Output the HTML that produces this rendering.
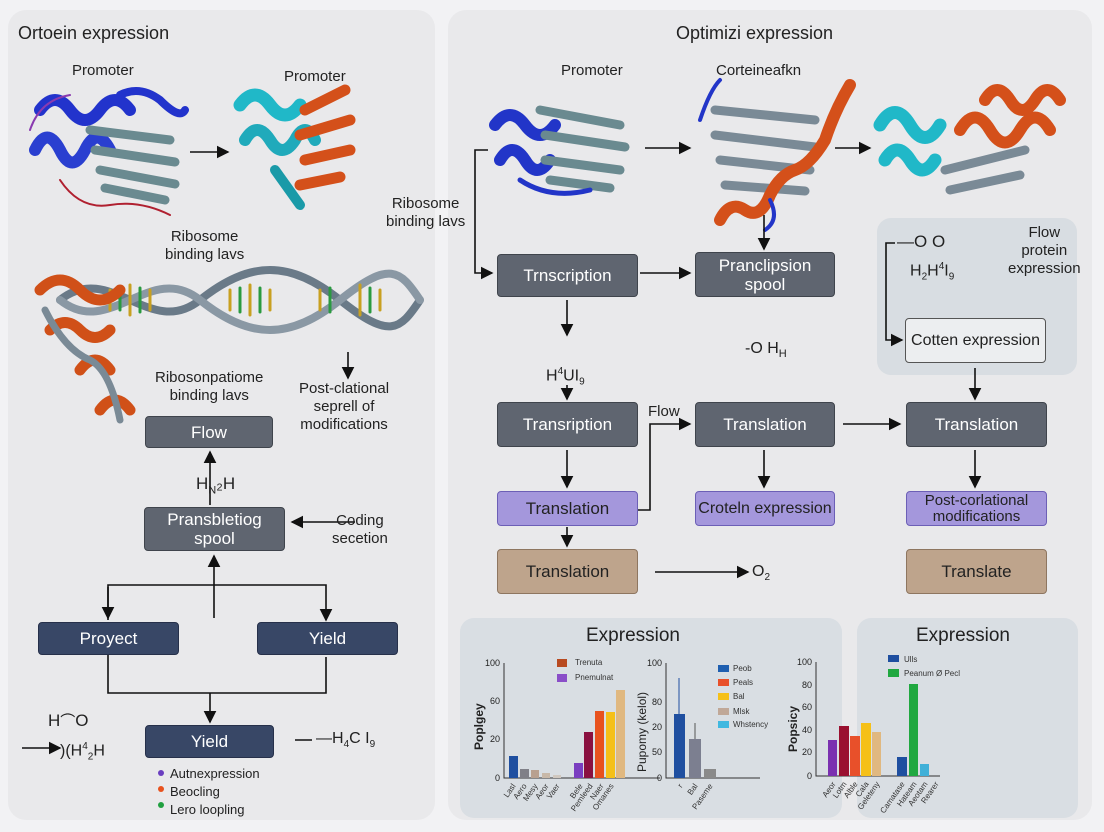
<!DOCTYPE html>
<html><head><meta charset="utf-8"><style>
body{margin:0;width:1104px;height:832px;background:#f2f2f4;font-family:"Liberation Sans",sans-serif;position:relative;overflow:hidden}
.a{position:absolute}
.p{position:absolute;border-radius:18px}
.b{position:absolute;display:flex;align-items:center;justify-content:center;text-align:center;border-radius:4px;font-size:17px;color:#fff;line-height:19px}
.g{background:#5f6570;border:1.5px solid #3f444c}
.n{background:#384766;border:1.5px solid #26304a}
.pu{background:#a497dc;border:1.5px solid #6c5fb6;color:#222}
.t{background:#bea48c;border:1.5px solid #8e7660;color:#222}
.l{position:absolute;font-size:15px;color:#222;text-align:center;line-height:18px;white-space:nowrap}
</style></head><body>
<div class="p" style="left:8px;top:10px;width:427px;height:810px;background:#e9e9eb"></div>
<div class="p" style="left:448px;top:10px;width:644px;height:810px;background:#e9e9eb"></div>
<div class="p" style="left:877px;top:218px;width:200px;height:157px;background:#d8dde2;border-radius:14px"></div>
<div class="p" style="left:460px;top:618px;width:382px;height:200px;background:#d9dee3;border-radius:14px"></div>
<div class="p" style="left:857px;top:618px;width:221px;height:200px;background:#d9dee3;border-radius:14px"></div>

<svg class="a" style="left:0;top:0" width="1104" height="832" viewBox="0 0 1104 832">
<defs><marker id="ar" markerWidth="8" markerHeight="8" refX="7" refY="4" orient="auto"><path d="M0,0L8,4L0,8z" fill="#111"/></marker></defs>
<g fill="none" stroke-linecap="round">
<path d="M40,110 q15,-20 30,0 q15,20 30,0 q15,-20 30,0" stroke="#2233cc" stroke-width="12"/>
<path d="M35,150 q12,-25 25,0 q12,25 25,0 q12,-25 25,0" stroke="#2a3fd0" stroke-width="12"/>
<path d="M90,130 l80,10 M95,150 l80,12 M100,170 l75,14 M105,188 l60,12" stroke="#6a8a90" stroke-width="9"/>
<path d="M60,180 q20,30 50,25 q30,-5 60,10" stroke="#b02030" stroke-width="2"/>
<path d="M120,95 q20,-10 40,5 q20,20 25,10" stroke="#2233cc" stroke-width="8"/>
<path d="M30,130 q10,-30 40,-35" stroke="#8a3ab0" stroke-width="2"/>
<path d="M240,105 q15,-20 30,0 q15,20 30,0" stroke="#20b8c8" stroke-width="13"/>
<path d="M245,140 q12,-20 25,0 q12,20 25,0 q10,-20 20,0" stroke="#20aabb" stroke-width="12"/>
<path d="M305,110 l40,-20 M300,135 l50,-15 M305,160 l45,-10 M300,185 l40,-8" stroke="#d4501a" stroke-width="11"/>
<path d="M275,170 l25,35" stroke="#1a9aa8" stroke-width="10"/>
<path d="M60,300 C110,260 150,340 200,300 S290,260 340,300 S400,330 420,300" stroke="#6a7a88" stroke-width="8"/>
<path d="M60,300 C110,340 150,260 200,300 S290,340 340,300 S400,270 420,300" stroke="#8a98a4" stroke-width="8"/>
<path d="M110,290 v20 M130,285 v30 M150,290 v20 M230,290 v20 M250,285 v30 M270,290 v20 M320,290 v20 M360,285 v30 M380,290 v20" stroke="#c8a020" stroke-width="3"/>
<path d="M120,290 v20 M140,288 v24 M240,288 v24 M260,288 v24 M330,288 v24 M370,288 v24" stroke="#2a9a40" stroke-width="3"/>
<path d="M40,290 q20,-20 40,0 q20,20 40,0 M50,330 q15,-15 30,0 q15,15 30,0 M80,370 q15,-20 30,0 M100,410 q15,-20 30,0" stroke="#d05018" stroke-width="11"/>
<path d="M45,310 q20,40 45,50 q20,10 30,60" stroke="#7a8a96" stroke-width="7"/>
<path d="M495,125 q15,-20 30,0 q15,20 30,0 M500,160 q12,-20 25,0 q12,20 25,0" stroke="#2235c8" stroke-width="12"/>
<path d="M540,110 l80,15 M545,135 l80,12 M545,160 l75,10 M550,180 l60,8" stroke="#6a8a90" stroke-width="9"/>
<path d="M520,180 q30,20 70,10" stroke="#2235c8" stroke-width="5"/>
<path d="M715,110 l100,10 M715,135 l100,12 M720,160 l90,10 M725,185 l80,6" stroke="#7a8a96" stroke-width="9"/>
<path d="M720,220 q10,-20 25,-10 q15,10 25,-15 q10,-20 25,-25 q15,-5 30,-30 q10,-30 25,-55" stroke="#d4501a" stroke-width="12"/>
<path d="M700,120 q10,-30 20,-40 M770,200 q10,20 -5,30" stroke="#2235c8" stroke-width="4"/>
<path d="M880,125 q15,-25 30,0 q15,25 30,0 M885,160 q12,-20 25,0 q12,20 25,0" stroke="#20b8c8" stroke-width="13"/>
<path d="M960,130 q15,-25 30,0 q15,25 30,0 q15,-25 30,0 M985,100 q12,-20 25,0 q12,20 25,0 q12,-20 25,0" stroke="#d4501a" stroke-width="12"/>
<path d="M945,170 l80,-20 M950,190 l70,-15" stroke="#7a8a96" stroke-width="9"/>
</g>
<g stroke="#111" stroke-width="1.6" fill="none">
<line x1="190" y1="152" x2="228" y2="152" marker-end="url(#ar)"/>
<line x1="348" y1="352" x2="348" y2="378" marker-end="url(#ar)"/>
<line x1="210" y1="505" x2="210" y2="452" marker-end="url(#ar)"/>
<line x1="355" y1="522" x2="292" y2="522" marker-end="url(#ar)"/>
<line x1="214" y1="618" x2="214" y2="556" marker-end="url(#ar)"/>
<polyline points="108,620 108,585 326,585 326,620" marker-end="url(#ar)"/>
<line x1="108" y1="587" x2="108" y2="618" marker-end="url(#ar)"/>
<polyline points="108,655 108,693 326,693 326,657"/>
<line x1="210" y1="693" x2="210" y2="722" marker-end="url(#ar)"/>
<line x1="22" y1="748" x2="60" y2="748" marker-end="url(#ar)"/>
<line x1="295" y1="740" x2="312" y2="740"/>
<polyline points="488,150 475,150 475,273 492,273" marker-end="url(#ar)"/>
<line x1="640" y1="273" x2="690" y2="273" marker-end="url(#ar)"/>
<line x1="764" y1="215" x2="764" y2="249" marker-end="url(#ar)"/>
<line x1="567" y1="300" x2="567" y2="335" marker-end="url(#ar)"/>
<line x1="567" y1="385" x2="567" y2="399" marker-end="url(#ar)"/>
<line x1="567" y1="450" x2="567" y2="487" marker-end="url(#ar)"/>
<line x1="567" y1="527" x2="567" y2="546" marker-end="url(#ar)"/>
<polyline points="637,510 650,510 650,424 690,424" marker-end="url(#ar)"/>
<line x1="764" y1="450" x2="764" y2="487" marker-end="url(#ar)"/>
<line x1="843" y1="424" x2="900" y2="424" marker-end="url(#ar)"/>
<line x1="975" y1="368" x2="975" y2="399" marker-end="url(#ar)"/>
<line x1="975" y1="450" x2="975" y2="487" marker-end="url(#ar)"/>
<polyline points="895,243 886,243 886,340 902,340" marker-end="url(#ar)"/>
<line x1="645" y1="148" x2="690" y2="148" marker-end="url(#ar)"/>
<line x1="835" y1="148" x2="870" y2="148" marker-end="url(#ar)"/>
<line x1="655" y1="572" x2="748" y2="572" marker-end="url(#ar)"/>
</g>
<g stroke="#333" stroke-width="1">
<path d="M504,663 V778 H660 M666,663 V778 H760 M816,662 V776 H940" fill="none"/>
</g>
<g font-size="9" fill="#222" text-anchor="end" font-family="Liberation Sans">
<text x="500" y="666">100</text><text x="500" y="704">60</text><text x="500" y="742">20</text><text x="500" y="781">0</text>
<text x="662" y="666">100</text><text x="662" y="705">80</text><text x="662" y="730">20</text><text x="662" y="755">50</text><text x="662" y="781">0</text>
<text x="812" y="665">100</text><text x="812" y="688">80</text><text x="812" y="710">60</text><text x="812" y="733">40</text><text x="812" y="755">20</text><text x="812" y="779">0</text>
</g>
<g font-size="12" fill="#222" font-family="Liberation Sans" font-weight="bold">
<text transform="translate(483,750) rotate(-90)">Poplgey</text>
<text transform="translate(646,772) rotate(-90)" font-weight="normal">Pupomy (kelol)</text>
<text transform="translate(797,752) rotate(-90)">Popsicy</text>
</g>
<rect x="509" y="756" width="9" height="22" fill="#1f4fa0"/>
<rect x="520" y="769" width="9" height="9" fill="#808088"/>
<rect x="531" y="770" width="8" height="8" fill="#b8a090"/>
<rect x="542" y="773" width="8" height="5" fill="#c8b8a8"/>
<rect x="553" y="775" width="8" height="3" fill="#d0c8c0"/>
<rect x="574" y="763" width="9" height="15" fill="#7a3ec0"/>
<rect x="584" y="732" width="9" height="46" fill="#8a1040"/>
<rect x="595" y="711" width="9" height="67" fill="#e8521e"/>
<rect x="606" y="712" width="9" height="66" fill="#f5c018"/>
<rect x="616" y="690" width="9" height="88" fill="#e0b880"/>
<rect x="557" y="659" width="10" height="8" fill="#b84a20"/><rect x="557" y="674" width="10" height="8" fill="#8a4ec8"/>
<rect x="674" y="714" width="11" height="64" fill="#1f4fa0"/><line x1="679" y1="678" x2="679" y2="714" stroke="#1f4fa0"/>
<rect x="689" y="739" width="12" height="39" fill="#7c7f90"/><line x1="695" y1="723" x2="695" y2="739" stroke="#555"/>
<rect x="704" y="769" width="12" height="9" fill="#8a8a8a"/>
<rect x="718" y="665" width="11" height="7" fill="#1f5fb0"/><rect x="718" y="679" width="11" height="7" fill="#e8502a"/><rect x="718" y="693" width="11" height="7" fill="#f5c018"/><rect x="718" y="708" width="11" height="7" fill="#c0a898"/><rect x="718" y="721" width="11" height="7" fill="#40b8e0"/>
<rect x="828" y="740" width="9" height="36" fill="#7a30b0"/>
<rect x="839" y="726" width="10" height="50" fill="#9a1030"/>
<rect x="850" y="736" width="10" height="40" fill="#e8502a"/>
<rect x="861" y="723" width="10" height="53" fill="#f5c018"/>
<rect x="872" y="732" width="9" height="44" fill="#e0b880"/>
<rect x="897" y="757" width="10" height="19" fill="#1f4fa0"/>
<rect x="909" y="684" width="9" height="92" fill="#20a840"/>
<rect x="920" y="764" width="9" height="12" fill="#40b0d8"/>
<rect x="888" y="655" width="11" height="7" fill="#1f4fa0"/><rect x="888" y="669" width="11" height="8" fill="#20a840"/>
<g font-size="8" fill="#333" font-family="Liberation Sans">
<text x="575" y="665">Trenuta</text><text x="575" y="680">Pnemulnat</text>
<text x="733" y="671">Peob</text><text x="733" y="685">Peals</text><text x="733" y="699">Bal</text><text x="733" y="714">Mlsk</text><text x="733" y="727">Whstency</text>
<text x="904" y="662">Ulls</text><text x="904" y="676">Peanum Ø Pecl</text>
</g>
<g font-size="8" fill="#333" font-family="Liberation Sans" text-anchor="end">
<text transform="translate(516,786) rotate(-55)">Lasl</text><text transform="translate(527,786) rotate(-55)">Aero</text><text transform="translate(538,786) rotate(-55)">Mesy</text><text transform="translate(549,786) rotate(-55)">Aeor</text><text transform="translate(560,786) rotate(-55)">Vaer</text>
<text transform="translate(583,786) rotate(-55)">Bele</text><text transform="translate(593,786) rotate(-55)">Pemleed</text><text transform="translate(604,786) rotate(-55)">Naer</text><text transform="translate(614,786) rotate(-55)">Omanes</text>
<text transform="translate(683,786) rotate(-55)">r</text><text transform="translate(698,786) rotate(-55)">Bal</text><text transform="translate(713,786) rotate(-55)">Paseme</text>
<text transform="translate(836,784) rotate(-55)">Aeor</text><text transform="translate(847,784) rotate(-55)">Lotm</text><text transform="translate(858,784) rotate(-55)">Alble</text><text transform="translate(869,784) rotate(-55)">Cala</text><text transform="translate(880,784) rotate(-55)">Geleteny</text>
<text transform="translate(905,784) rotate(-55)">Camatase</text><text transform="translate(917,784) rotate(-55)">Hateam</text><text transform="translate(928,784) rotate(-55)">Aeotam</text><text transform="translate(939,784) rotate(-55)">Rearer</text>
</g>
<circle cx="161" cy="773" r="3" fill="#6a3ec0"/><circle cx="161" cy="789" r="3" fill="#e8521e"/><circle cx="161" cy="805" r="3" fill="#20a040"/>
</svg>

<div class="l" style="left:18px;top:24px;font-size:18px">Ortoein expression</div>
<div class="l" style="left:676px;top:24px;font-size:18px">Optimizi expression</div>
<div class="l" style="left:72px;top:62px">Promoter</div>
<div class="l" style="left:284px;top:68px">Promoter</div>
<div class="l" style="left:561px;top:62px">Promoter</div>
<div class="l" style="left:716px;top:62px">Corteineafkn</div>
<div class="l" style="left:165px;top:228px">Ribosome<br>binding lavs</div>
<div class="l" style="left:386px;top:195px">Ribosome<br>binding lavs</div>
<div class="l" style="left:155px;top:369px">Ribosonpatiome<br>binding lavs</div>
<div class="l" style="left:299px;top:380px">Post-clational<br>seprell of<br>modifications</div>
<div class="l" style="left:196px;top:475px;font-size:17px">H<sub style="font-size:11px">N</sub>₂H</div>
<div class="l" style="left:332px;top:512px">Coding<br>secetion</div>
<div class="l" style="left:546px;top:363px;font-size:16px">H<sup style="font-size:10px">4</sup>UI<sub style="font-size:10px">9</sub></div>
<div class="l" style="left:745px;top:340px;font-size:16px">-O H<sub style="font-size:11px">H</sub></div>
<div class="l" style="left:648px;top:403px">Flow</div>
<div class="l" style="left:1008px;top:224px">Flow<br>protein<br>expression</div>
<div class="l" style="left:897px;top:233px;font-size:17px">—O  O</div>
<div class="l" style="left:910px;top:258px;font-size:16px">H<sub style="font-size:10px">2</sub>H<sup style="font-size:10px">4</sup>I<sub style="font-size:10px">9</sub></div>
<div class="l" style="left:752px;top:563px;font-size:16px">O<sub style="font-size:10px">2</sub></div>
<div class="l" style="left:48px;top:712px;font-size:17px">H<span style="font-size:15px">⌒</span>O</div>
<div class="l" style="left:60px;top:738px;font-size:16px">)(H<sup style="font-size:10px">4</sup><sub style="font-size:10px">2</sub>H</div>
<div class="l" style="left:316px;top:730px;font-size:16px">—H<sub style="font-size:10px">4</sub>C I<sub style="font-size:10px">9</sub></div>
<div class="l" style="left:170px;top:765px;font-size:13px;text-align:left">Autnexpression<br>Beocling<br>Lero loopling</div>
<div class="l" style="left:586px;top:627px;font-size:19px">Expression</div>
<div class="l" style="left:916px;top:627px;font-size:19px">Expression</div>

<div class="b g" style="left:145px;top:416px;width:126px;height:30px">Flow</div>
<div class="b g" style="left:144px;top:507px;width:139px;height:42px">Pransbletiog<br>spool</div>
<div class="b n" style="left:38px;top:622px;width:139px;height:31px">Proyect</div>
<div class="b n" style="left:257px;top:622px;width:139px;height:31px">Yield</div>
<div class="b n" style="left:145px;top:725px;width:127px;height:31px">Yield</div>
<div class="b g" style="left:497px;top:254px;width:139px;height:41px">Trnscription</div>
<div class="b g" style="left:695px;top:252px;width:138px;height:43px">Pranclipsion<br>spool</div>
<div class="b g" style="left:497px;top:402px;width:139px;height:43px">Transription</div>
<div class="b g" style="left:695px;top:402px;width:138px;height:43px">Translation</div>
<div class="b g" style="left:906px;top:402px;width:139px;height:43px">Translation</div>
<div class="b pu" style="left:497px;top:491px;width:139px;height:33px">Translation</div>
<div class="b pu" style="left:695px;top:491px;width:138px;height:33px;font-size:16px">Croteln expression</div>
<div class="b pu" style="left:906px;top:491px;width:139px;height:33px;font-size:15px;line-height:16px">Post-corlational<br>modifications</div>
<div class="b t" style="left:497px;top:549px;width:139px;height:43px">Translation</div>
<div class="b t" style="left:906px;top:549px;width:139px;height:43px">Translate</div>
<div class="b" style="left:905px;top:318px;width:139px;height:43px;background:#eceef0;border:1.5px solid #555;color:#222;font-size:16px">Cotten expression</div>
</body></html>
